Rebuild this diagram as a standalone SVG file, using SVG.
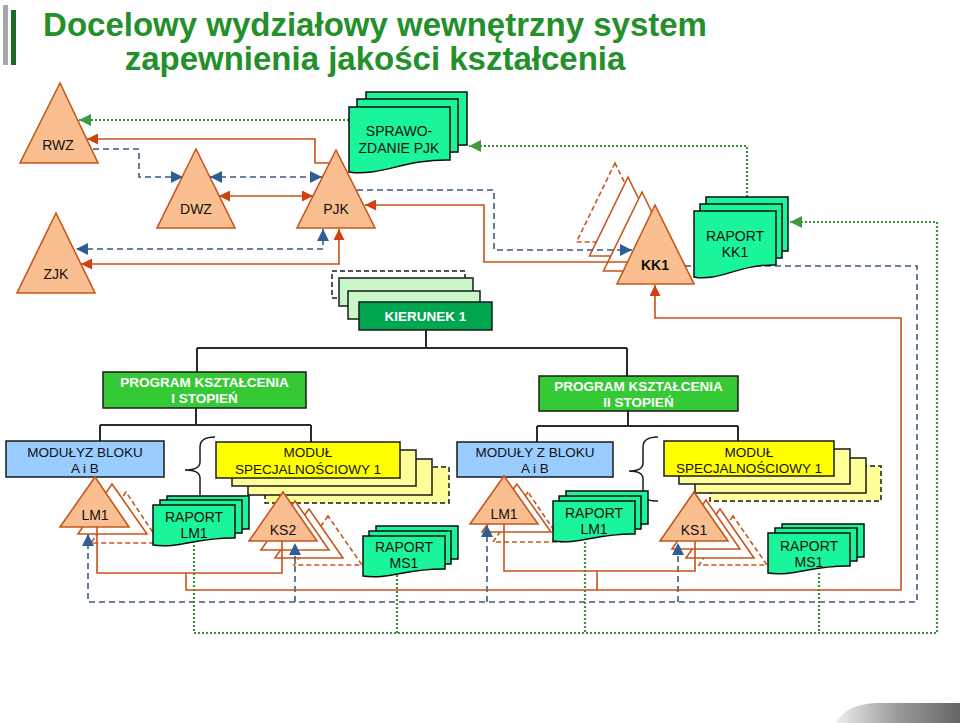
<svg xmlns="http://www.w3.org/2000/svg" xmlns:xlink="http://www.w3.org/1999/xlink" width="960" height="723" viewBox="0 0 960 723">
<style>
text{font-family:"Liberation Sans",Arial,sans-serif;text-anchor:middle}
.title{font-size:33px;font-weight:bold;fill:#23902B}
.tri{fill:#F9BF90;stroke:#C8561E;stroke-width:1.6}
.trio{fill:#fff;stroke:#C8561E;stroke-width:1.6}
.trid{fill:#fff;stroke:#C8561E;stroke-width:1.6;stroke-dasharray:5 3}
.tl{font-size:14px;fill:#111}
.doc{fill:#1AF59C;stroke:#0c0c0c;stroke-width:1.5}
.dl{font-size:14px;fill:#111}
.wb{font-size:13.5px;font-weight:bold;fill:#fff}
.bl{font-size:13.5px;fill:#111}
.box{stroke:#1a1a1a;stroke-width:1.5}
.tree{fill:none;stroke:#2a2a2a;stroke-width:2}
.or{fill:none;stroke:#C9521B;stroke-width:1.6}
.bd{fill:none;stroke:#3C5A82;stroke-width:1.6;stroke-dasharray:6 4}
.gd{fill:none;stroke:#3E8E3E;stroke-width:2.2;stroke-dasharray:2 2}
.brace{fill:none;stroke:#1a1a1a;stroke-width:1.5}
</style>
<defs>
<marker id="ao" viewBox="0 0 12 12" refX="12" refY="6" markerWidth="12" markerHeight="11" markerUnits="userSpaceOnUse" orient="auto-start-reverse"><path d="M0,0 L12,6 L0,12 Z" fill="#D2400E"/></marker>
<marker id="ab" viewBox="0 0 12 12" refX="12" refY="6" markerWidth="12" markerHeight="12" markerUnits="userSpaceOnUse" orient="auto-start-reverse"><path d="M0,0 L12,6 L0,12 Z" fill="#2D5E96"/></marker>
<marker id="ag" viewBox="0 0 12 12" refX="12" refY="6" markerWidth="12" markerHeight="12" markerUnits="userSpaceOnUse" orient="auto-start-reverse"><path d="M0,0 L12,6 L0,12 Z" fill="#3F9A3F"/></marker>
<path id="docKK" d="M0,0 H82 V54 C45,53 25,71 0,66 Z"/>
<path id="docSP" d="M0,0 H101 V53 C56,52 30,70 0,65 Z"/>
<path id="docSm" d="M0,0 H82 V33 C45,32 25,44 0,40 Z"/>
<linearGradient id="gr" x1="0" y1="0" x2="1" y2="0"><stop offset="0" stop-color="#eee"/><stop offset="0.5" stop-color="#999"/><stop offset="1" stop-color="#666"/></linearGradient>
</defs>
<rect width="960" height="723" fill="#fff"/>
<g id="title">
<rect x="3" y="5" width="5" height="60" fill="#A6A6A6"/>
<rect x="11" y="10" width="5" height="55" fill="#1D6B25"/>
<text class="title" x="375" y="36">Docelowy wydziałowy wewnętrzny system</text>
<text class="title" x="375" y="70">zapewnienia jakości kształcenia</text>
</g>
<g id="kierunek">
<rect x="332" y="271" width="133" height="27" fill="#fff" stroke="#1a1a1a" stroke-width="1.5" stroke-dasharray="5 3"/>
<rect class="box" x="339" y="278" width="134" height="28" fill="#C9F7C9"/>
<rect class="box" x="348" y="291" width="132" height="28" fill="#C9F7C9"/>
<rect class="box" x="359" y="302" width="133" height="28" fill="#00A550"/>
<text class="wb" x="425.5" y="321">KIERUNEK 1</text>
</g>
<g id="tree">
<path class="tree" d="M426,330 V348 M197,348 H627 M197,348 V372 M627,348 V376 M196,408 V425 M100,425 H311 M100,425 V441 M311,425 V442 M628,411 V426 M537,426 H738 M537,426 V442 M738,426 V441"/>
</g>
<g id="program1">
<rect class="box" x="103" y="372" width="203" height="36" fill="#35C935"/>
<text class="wb" x="204.5" y="387">PROGRAM KSZTAŁCENIA</text>
<text class="wb" x="204.5" y="403">I STOPIEŃ</text>
</g>
<g id="program2">
<rect class="box" x="539" y="376" width="199" height="35" fill="#35C935"/>
<text class="wb" x="638.5" y="391">PROGRAM KSZTAŁCENIA</text>
<text class="wb" x="638.5" y="407">II STOPIEŃ</text>
</g>
<g id="moduly1">
<rect class="box" x="6" y="441" width="158" height="36" fill="#99CCFF"/>
<text class="bl" x="85" y="457">MODUŁYZ BLOKU</text>
<text class="bl" x="85" y="473">A i B</text>
</g>
<g id="moduly2">
<rect class="box" x="457" y="442" width="156" height="35" fill="#99CCFF"/>
<text class="bl" x="535" y="457">MODUŁY Z BLOKU</text>
<text class="bl" x="535" y="473">A i B</text>
</g>
<g id="braces">
<path class="brace" d="M215,437 Q200,437 200,447 V462 Q200,470 185,470 Q200,470 200,478 V495"/>
<path class="brace" d="M658,437 Q643,437 643,447 V463 Q643,471 629,471 Q643,471 643,479 V495 Q643,501 658,501"/>
</g>
<g id="specjalnosc1">
<rect x="265" y="467" width="184" height="36" fill="#FFFF99" stroke="#1a1a1a" stroke-width="1.5" stroke-dasharray="5 3"/>
<rect class="box" x="248" y="459" width="184" height="36" fill="#FFFF99"/>
<rect class="box" x="232" y="450" width="184" height="36" fill="#FFFF99"/>
<rect class="box" x="216" y="442" width="184" height="36" fill="#FFFF00"/>
<text class="bl" x="308" y="457">MODUŁ</text>
<text class="bl" x="308" y="474">SPECJALNOŚCIOWY 1</text>
</g>
<g id="specjalnosc2">
<rect x="710" y="466" width="171" height="35" fill="#FFFF99" stroke="#1a1a1a" stroke-width="1.5" stroke-dasharray="5 3"/>
<rect class="box" x="695" y="458" width="171" height="35" fill="#FFFF99"/>
<rect class="box" x="679" y="449" width="171" height="35" fill="#FFFF99"/>
<rect class="box" x="664" y="441" width="170" height="35" fill="#FFFF00"/>
<text class="bl" x="749" y="457">MODUŁ</text>
<text class="bl" x="749" y="473">SPECJALNOŚCIOWY 1</text>
</g>
<g id="rwz"><polygon class="tri" points="60,83 20,163 98,163"/><text class="tl" x="58" y="150">RWZ</text></g>
<g id="dwz"><polygon class="tri" points="196,149 157,228 235,228"/><text class="tl" x="196" y="214">DWZ</text></g>
<g id="pjk"><polygon class="tri" points="336,150 297,228 375,228"/><text class="tl" x="336" y="214">PJK</text></g>
<g id="zjk"><polygon class="tri" points="56,213 17,293 95,293"/><text class="tl" x="56" y="279">ZJK</text></g>
<g id="kk1">
<polygon class="trid" points="615,163 576.5,242 653.5,242"/>
<polygon class="trio" points="628,177 589.5,256 666.5,256"/>
<polygon class="trio" points="642,192 603.5,271 680.5,271"/>
<polygon class="tri" points="655,205 617,284 694,284"/>
<text class="tl" x="655" y="270" font-weight="bold">KK1</text>
</g>
<g id="lm1a">
<polygon class="trid" points="126,492 91,543 160,543"/>
<polygon class="trio" points="112,484 78,534 147,534"/>
<polygon class="tri" points="95,477 60,527 129,527"/>
<text class="tl" x="95" y="520">LM1</text>
</g>
<g id="ks2">
<polygon class="trid" points="328,516 294,565 362,565"/>
<polygon class="trio" points="309,509 275,558 343,558"/>
<polygon class="trio" points="295,501 261,550 329,550"/>
<polygon class="tri" points="283,492 249,541 317,541"/>
<text class="tl" x="283" y="535">KS2</text>
</g>
<g id="lm1b">
<polygon class="trid" points="528,492 493,542 562,542"/>
<polygon class="trio" points="517,484 482,532 551,532"/>
<polygon class="tri" points="504,476 470,524 538,524"/>
<text class="tl" x="504" y="519">LM1</text>
</g>
<g id="ks1">
<polygon class="trid" points="733,516 699,565 767,565"/>
<polygon class="trio" points="720,509 686,558 754,558"/>
<polygon class="trio" points="706,500 672,549 740,549"/>
<polygon class="tri" points="694,492 660,541 728,541"/>
<text class="tl" x="694" y="535">KS1</text>
</g>
<g id="connectors">
<path class="gd" d="M349,120 H79" marker-end="url(#ag)"/>
<path class="or" d="M330,163 H315 V139 H87" marker-end="url(#ao)"/>
<path class="bd" d="M93,149 H139 V177 H183" marker-end="url(#ab)"/>
<path class="bd" d="M210,177 H322" marker-start="url(#ab)" marker-end="url(#ab)"/>
<path class="or" d="M219,196 H313" marker-start="url(#ao)" marker-end="url(#ao)"/>
<path class="bd" d="M357,190 H494 V250 H632" marker-end="url(#ab)"/>
<path class="or" d="M627,262 H484 V205 H365" marker-end="url(#ao)"/>
<path class="bd" d="M323,229 V249 H76" marker-start="url(#ab)" marker-end="url(#ab)"/>
<path class="or" d="M339,229 V264 H81" marker-start="url(#ao)" marker-end="url(#ao)"/>
<path class="gd" d="M747,197 V146 H469" marker-end="url(#ag)"/>
<path class="bd" d="M685,266 H917 V602 H88 V534" marker-end="url(#ab)"/>
<path class="bd" d="M295,602 V543" marker-end="url(#ab)"/>
<path class="bd" d="M487,602 V525" marker-end="url(#ab)"/>
<path class="bd" d="M678,602 V543" marker-end="url(#ab)"/>
<path class="or" d="M186,573 V590 H901 V318 H655 V285" marker-end="url(#ao)"/>
<path class="or" d="M97,527 V573 H282 V541"/>
<path class="or" d="M504,524 V571 H695 V541 M597,571 V590"/>
<path class="gd" d="M194,545 V633 H937 V222 H790" marker-end="url(#ag)"/>
<path class="gd" d="M397,575 V633 M585,542 V633 M819,573 V633"/>
</g>
<g id="sprawozdanie">
<use href="#docSP" class="doc" x="366" y="92"/>
<use href="#docSP" class="doc" x="357" y="99"/>
<use href="#docSP" class="doc" x="349" y="107"/>
<text class="dl" x="399" y="136">SPRAWO-</text>
<text class="dl" x="399" y="153">ZDANIE PJK</text>
</g>
<g id="raportkk1">
<use href="#docKK" class="doc" x="706" y="197"/>
<use href="#docKK" class="doc" x="700" y="204"/>
<use href="#docKK" class="doc" x="694" y="211"/>
<text class="dl" x="735" y="241">RAPORT</text>
<text class="dl" x="735" y="257">KK1</text>
</g>
<g id="raportlm1a">
<use href="#docSm" class="doc" x="167" y="496"/>
<use href="#docSm" class="doc" x="160" y="500"/>
<use href="#docSm" class="doc" x="153" y="505"/>
<text class="dl" x="194" y="522">RAPORT</text>
<text class="dl" x="194" y="538">LM1</text>
</g>
<g id="raportms1a">
<use href="#docSm" class="doc" x="376" y="526"/>
<use href="#docSm" class="doc" x="369" y="531"/>
<use href="#docSm" class="doc" x="363" y="536"/>
<text class="dl" x="404" y="552">RAPORT</text>
<text class="dl" x="404" y="568">MS1</text>
</g>
<g id="raportlm1b">
<use href="#docSm" class="doc" x="566" y="491"/>
<use href="#docSm" class="doc" x="559" y="496"/>
<use href="#docSm" class="doc" x="553" y="501"/>
<text class="dl" x="594" y="518">RAPORT</text>
<text class="dl" x="594" y="534">LM1</text>
</g>
<g id="raportms1b">
<use href="#docSm" class="doc" x="782" y="524"/>
<use href="#docSm" class="doc" x="775" y="528"/>
<use href="#docSm" class="doc" x="768" y="533"/>
<text class="dl" x="809" y="551">RAPORT</text>
<text class="dl" x="809" y="567">MS1</text>
</g>
<path d="M836,723 Q845,705 875,703 H960 V723 Z" fill="url(#gr)"/>
</svg>
